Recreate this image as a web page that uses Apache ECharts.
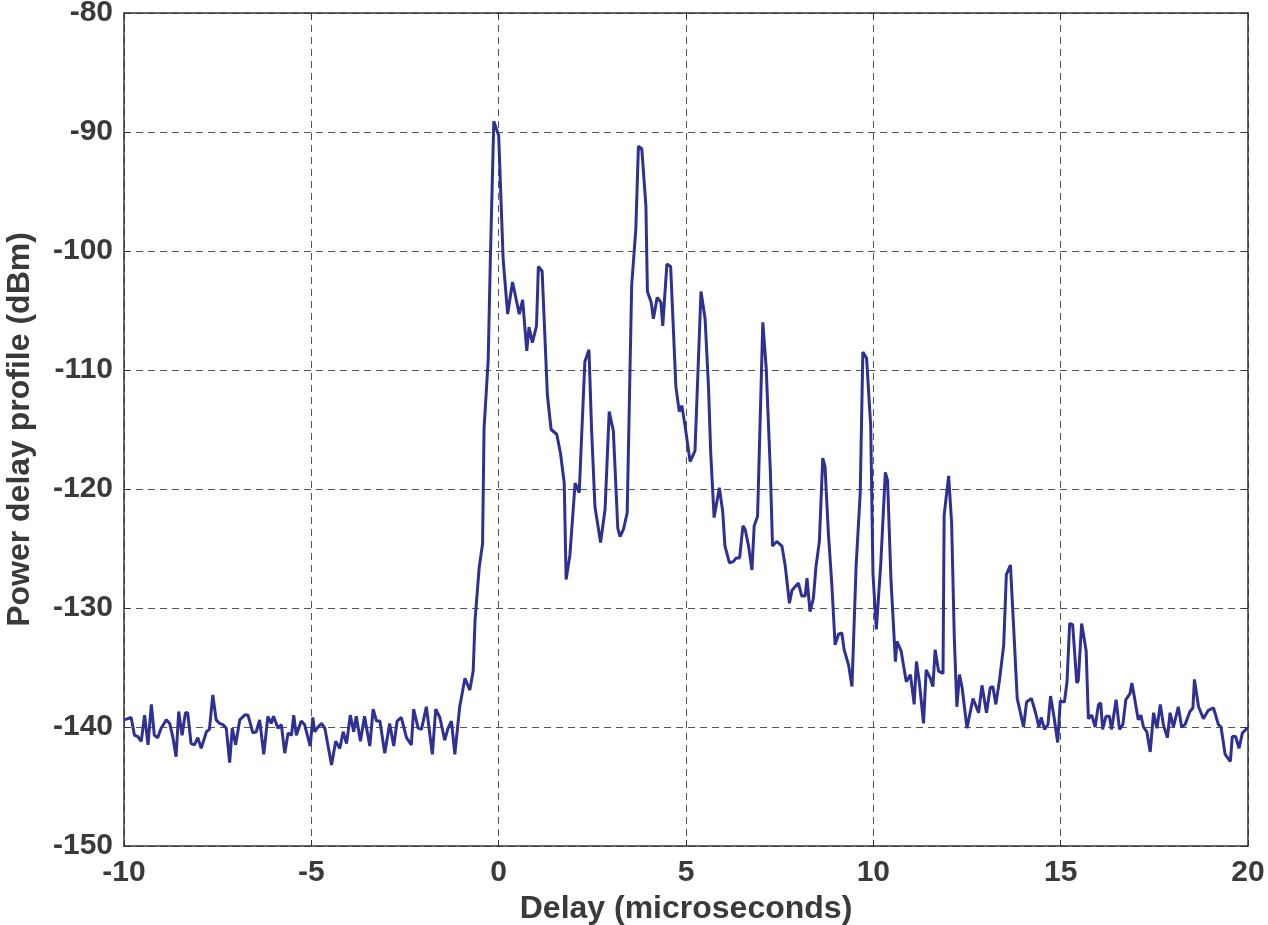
<!DOCTYPE html>
<html>
<head>
<meta charset="utf-8">
<title>Power delay profile</title>
<script src="https://cdn.jsdelivr.net/npm/echarts/dist/echarts.min.js"></script>
<style>
    html, body {margin: 0; padding: 0; background: #fff;}
    #main {width: 1268px; height: 925px;}
</style>
</head>
<body>
<div id="main"></div>
<script>
// vertices (delay in microseconds, power in dBm)
const delay = [
    -10.00, -9.81, -9.72, -9.63, -9.54, -9.45, -9.36, -9.27, -9.19, -9.10,
    -9.01, -8.87, -8.78, -8.70, -8.61, -8.54, -8.45, -8.36, -8.30, -8.21,
    -8.12, -8.03, -7.94, -7.80, -7.72, -7.63, -7.54, -7.45, -7.36, -7.27,
    -7.18, -7.11, -7.02, -6.91, -6.78, -6.69, -6.56, -6.47, -6.38, -6.27,
    -6.16, -6.07, -6.01, -5.89, -5.80, -5.71, -5.62, -5.53, -5.47, -5.40,
    -5.27, -5.18, -5.03, -4.96, -4.91, -4.82, -4.73, -4.64, -4.46, -4.35,
    -4.24, -4.15, -4.06, -3.96, -3.87, -3.80, -3.69, -3.58, -3.44, -3.35,
    -3.26, -3.17, -3.04, -2.91, -2.80, -2.71, -2.60, -2.46, -2.33, -2.27,
    -2.15, -2.06, -1.93, -1.77, -1.68, -1.57, -1.44, -1.35, -1.26, -1.17,
    -1.04, -0.90, -0.77, -0.68, -0.63, -0.52, -0.43, -0.39, -0.28, -0.22,
    -0.13, 0.00, 0.12, 0.24, 0.37, 0.55, 0.64, 0.75, 0.81, 0.90,
    1.01, 1.06, 1.16, 1.30, 1.40, 1.55, 1.65, 1.75, 1.80, 1.90,
    2.04, 2.15, 2.30, 2.41, 2.48, 2.57, 2.72, 2.84, 2.95, 3.06,
    3.18, 3.24, 3.33, 3.43, 3.55, 3.66, 3.73, 3.82, 3.93, 3.97,
    4.07, 4.13, 4.23, 4.33, 4.38, 4.49, 4.59, 4.73, 4.82, 4.89,
    4.98, 5.11, 5.24, 5.40, 5.51, 5.60, 5.66, 5.75, 5.89, 5.98,
    6.04, 6.16, 6.26, 6.34, 6.43, 6.52, 6.58, 6.67, 6.76, 6.82,
    6.91, 7.05, 7.14, 7.25, 7.31, 7.42, 7.56, 7.65, 7.76, 7.83,
    8.00, 8.09, 8.18, 8.23, 8.31, 8.40, 8.47, 8.56, 8.65, 8.71,
    8.80, 8.89, 8.98, 9.07, 9.16, 9.22, 9.34, 9.43, 9.54, 9.65,
    9.72, 9.82, 9.93, 9.99, 10.08, 10.20, 10.32, 10.38, 10.47, 10.59,
    10.63, 10.74, 10.88, 10.99, 11.09, 11.15, 11.23, 11.34, 11.41, 11.52,
    11.59, 11.65, 11.74, 11.86, 11.89, 12.01, 12.09, 12.16, 12.23, 12.30,
    12.37, 12.50, 12.66, 12.81, 12.90, 13.02, 13.12, 13.19, 13.27, 13.37,
    13.48, 13.55, 13.66, 13.74, 13.84, 14.01, 14.09, 14.22, 14.33, 14.42,
    14.48, 14.57, 14.66, 14.73, 14.82, 14.92, 14.99, 15.10, 15.17, 15.24,
    15.32, 15.43, 15.47, 15.56, 15.68, 15.74, 15.83, 15.92, 16.01, 16.07,
    16.12, 16.21, 16.30, 16.36, 16.48, 16.57, 16.66, 16.74, 16.85, 16.90,
    16.98, 17.07, 17.14, 17.21, 17.30, 17.39, 17.48, 17.57, 17.66, 17.74,
    17.85, 17.92, 18.01, 18.14, 18.23, 18.32, 18.45, 18.53, 18.57, 18.68,
    18.81, 18.94, 19.08, 19.21, 19.28, 19.39, 19.53, 19.58, 19.67, 19.76,
    19.85, 19.98, 20.00
]

const power = [
    -139.4, -139.2, -140.7, -140.8, -141.2, -139.0, -141.5, -138.1, -140.7, -140.9,
    -140.1, -139.4, -139.7, -140.8, -142.5, -138.7, -140.7, -138.8, -138.8, -141.4,
    -141.5, -140.9, -141.8, -140.4, -140.2, -137.3, -139.4, -139.7, -139.8, -140.1,
    -143.0, -140.1, -141.5, -139.4, -139.0, -139.0, -140.5, -140.4, -139.4, -142.3,
    -139.1, -139.7, -139.1, -140.1, -139.8, -142.2, -140.5, -140.7, -139.0, -140.7,
    -139.5, -139.8, -141.6, -139.2, -140.4, -140.0, -139.7, -140.1, -143.2, -141.2,
    -141.8, -140.4, -141.4, -139.0, -140.4, -139.1, -141.2, -139.1, -141.6, -138.5,
    -139.5, -139.5, -142.2, -139.7, -141.6, -139.5, -139.2, -140.9, -141.5, -138.5,
    -140.1, -140.2, -138.3, -142.3, -138.5, -139.2, -141.1, -140.1, -139.5, -142.3,
    -138.3, -135.9, -136.9, -135.3, -131.0, -126.6, -124.6, -114.9, -109.2, -100.4,
    -89.1, -90.3, -100.7, -105.3, -102.6, -105.3, -104.1, -108.4, -106.4, -107.7,
    -106.3, -101.3, -101.7, -112.1, -115.0, -115.4, -117.0, -119.5, -127.6, -125.6,
    -119.5, -120.3, -109.3, -108.3, -115.0, -121.5, -124.5, -121.7, -113.5, -115.1,
    -123.3, -124.0, -123.4, -122.0, -102.9, -98.2, -91.2, -91.4, -96.2, -103.4,
    -104.3, -105.7, -103.9, -104.3, -106.3, -101.1, -101.3, -111.4, -113.5, -113.0,
    -114.8, -117.7, -116.8, -103.4, -105.7, -111.4, -117.0, -122.4, -119.9, -121.9,
    -124.8, -126.2, -126.1, -125.8, -125.8, -123.1, -123.4, -124.8, -126.8, -123.1,
    -122.3, -106.0, -109.8, -118.4, -124.8, -124.4, -124.8, -126.5, -129.6, -128.5,
    -127.9, -129.0, -129.0, -127.5, -130.3, -129.2, -126.5, -124.4, -117.4, -118.1,
    -123.7, -127.9, -133.1, -132.2, -132.1, -133.5, -134.8, -136.6, -126.5, -120.3,
    -108.5, -109.0, -114.7, -127.1, -131.8, -126.2, -118.6, -119.3, -127.6, -134.5,
    -132.8, -133.6, -136.2, -135.6, -138.1, -134.5, -136.3, -139.7, -135.2, -135.9,
    -136.6, -133.5, -135.3, -135.5, -122.2, -118.9, -122.9, -132.4, -138.3, -135.6,
    -136.7, -140.1, -137.6, -138.8, -136.5, -138.8, -136.7, -136.6, -138.1, -136.0,
    -133.1, -127.2, -126.4, -131.3, -137.6, -140.0, -137.9, -137.6, -138.8, -140.0,
    -139.2, -140.2, -139.8, -137.4, -139.1, -141.3, -137.8, -137.9, -136.2, -131.3,
    -131.4, -136.3, -136.1, -131.3, -133.6, -139.3, -139.0, -140.0, -138.1, -138.0,
    -140.2, -139.1, -139.1, -140.2, -137.7, -140.2, -139.8, -137.7, -137.2, -136.3,
    -137.7, -139.4, -139.0, -140.0, -140.4, -142.1, -138.8, -140.1, -138.1, -139.8,
    -140.9, -138.8, -140.0, -138.3, -140.0, -139.8, -138.7, -138.4, -136.0, -138.3,
    -139.3, -138.6, -138.4, -139.8, -140.0, -142.3, -142.9, -140.8, -140.8, -141.8,
    -140.5, -140.1, -140.1
]

const xTicks = {min: -10, max: 20, interval: 5}
const yTicks = {min: -150, max: -80, interval: 10}

const textColor = '#3a3a3a'
const fontFamily = '"Liberation Sans", Arial, sans-serif'

const frameLine = {show: true, onZero: false, lineStyle: {color: '#333', width: 1.5}}
const innerTick = {show: true, inside: true, length: 6, lineStyle: {color: '#333', width: 1}}
const gridLine = {show: true, lineStyle: {color: '#555', width: 1, type: [7, 5]}}
const labelStyle = {color: textColor, fontSize: 30, fontWeight: 'bold', fontFamily: fontFamily}
const nameStyle = {color: textColor, fontSize: 32, fontWeight: 'bold', fontFamily: fontFamily}

const chart = echarts.init(document.getElementById('main'))

chart.setOption({
    animation: false,
    backgroundColor: '#fff',
    grid: {left: 124, right: 20, top: 13, bottom: 79, containLabel: false, outerBoundsMode: 'none'},
    xAxis: [{
        type: 'value',
        min: xTicks.min,
        max: xTicks.max,
        interval: xTicks.interval,
        name: 'Delay (microseconds)',
        nameLocation: 'middle',
        nameGap: 47,
        nameMoveOverlap: false,
        nameTextStyle: nameStyle,
        axisLine: frameLine,
        axisTick: innerTick,
        axisLabel: Object.assign({margin: 12}, labelStyle),
        splitLine: gridLine,
    }, {
        type: 'value',
        position: 'top',
        min: xTicks.min,
        max: xTicks.max,
        interval: xTicks.interval,
        axisLine: frameLine,
        axisTick: innerTick,
        axisLabel: {show: false},
        splitLine: {show: false},
    }],
    yAxis: [{
        type: 'value',
        min: yTicks.min,
        max: yTicks.max,
        interval: yTicks.interval,
        name: 'Power delay profile (dBm)',
        nameLocation: 'middle',
        nameGap: 88,
        nameMoveOverlap: false,
        nameTextStyle: nameStyle,
        axisLine: frameLine,
        axisTick: innerTick,
        axisLabel: Object.assign({margin: 11}, labelStyle),
        splitLine: gridLine,
    }, {
        type: 'value',
        position: 'right',
        min: yTicks.min,
        max: yTicks.max,
        interval: yTicks.interval,
        axisLine: frameLine,
        axisTick: innerTick,
        axisLabel: {show: false},
        splitLine: {show: false},
    }],
    series: [{
        type: 'line',
        xAxisIndex: 0,
        yAxisIndex: 0,
        data: delay.map((d, i) => [d, power[i]]),
        showSymbol: false,
        symbol: 'none',
        lineStyle: {color: '#2e3192', width: 3},
    }],
})
</script>
</body>
</html>
